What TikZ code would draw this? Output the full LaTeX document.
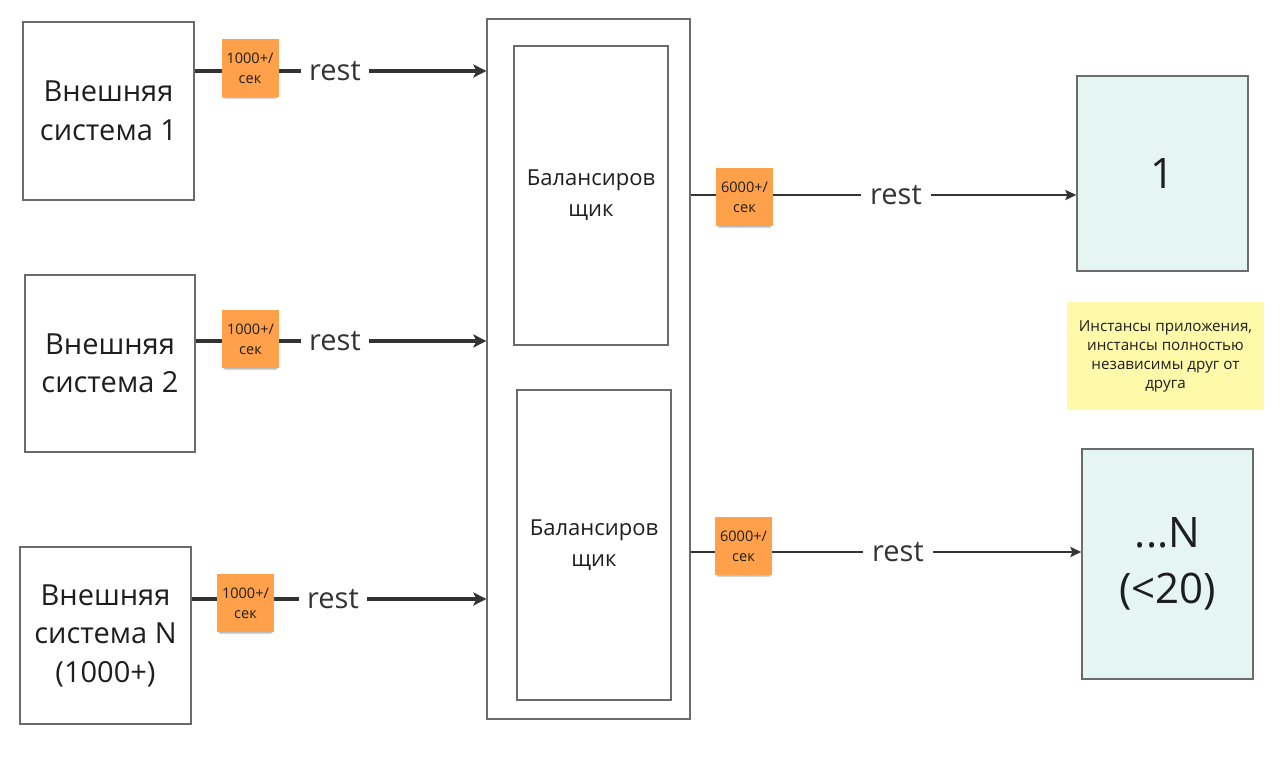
\documentclass[tikz,border=0pt]{standalone}
\usepackage{fontspec}
\setmainfont{Open Sans}
\usetikzlibrary{arrows.meta,shadows,backgrounds}
\definecolor{boxline}{HTML}{6B6B6B}
\definecolor{arrowc}{HTML}{333333}
\definecolor{orangenote}{HTML}{FFA04A}
\definecolor{yellownote}{HTML}{FFF9AA}
\definecolor{tealfill}{HTML}{E4F5F2}
\definecolor{txt}{HTML}{1E1E1E}
\tikzset{
  softshadow/.style={
    drop shadow={shadow xshift=0pt, shadow yshift=-2pt, shadow scale=0.97, opacity=0.10, fill=black},
    drop shadow={shadow xshift=0pt, shadow yshift=-4pt, shadow scale=0.93, opacity=0.10, fill=black},
    drop shadow={shadow xshift=0pt, shadow yshift=-6pt, shadow scale=0.89, opacity=0.08, fill=black}},
  sysbox/.style={draw=boxline, line width=1.3pt, fill=white, inner sep=0pt, align=center, text=txt,
    font=\fontsize{29}{38.5}\selectfont},
  balbox/.style={draw=boxline, line width=1.1pt, inner sep=0pt, align=center, text=txt,
    font=\fontsize{22}{31}\selectfont},
  instbox/.style={draw=boxline, line width=1.3pt, fill=tealfill, inner sep=0pt, align=center, text=txt,
    font=\fontsize{42}{56}\selectfont},
  sticky/.style={fill=orangenote, inner sep=0pt, minimum width=57pt, minimum height=58pt, align=center,
    text=txt, font=\fontsize{14.5}{20}\selectfont, softshadow},
  yelnote/.style={fill=yellownote, inner sep=0pt, minimum width=197pt, minimum height=108pt, align=center,
    text=txt, font=\fontsize{15.2}{19}\selectfont, softshadow},
  restlab/.style={fill=white, inner xsep=8pt, inner ysep=2pt, text=arrowc, font=\fontsize{29}{32}\selectfont},
  restlabr/.style={fill=white, inner xsep=9pt, inner ysep=2pt, text=arrowc, font=\fontsize{29}{32}\selectfont},
  thickarr/.style={draw=arrowc, line width=3.2pt, -{Stealth[length=13pt, width=13pt, inset=3pt]}},
  thinarr/.style={draw=arrowc, line width=2pt, -{Stealth[length=11pt, width=10pt, inset=2pt]}},
}
\begin{document}
\begin{tikzpicture}[x=1pt, y=-1pt]
\useasboundingbox (0,0) rectangle (1280,767);

% central balancer container
\node[draw=boxline, line width=1.3pt, inner sep=0pt, minimum width=203pt, minimum height=700pt] (outer) at (588.5,369) {};
\node[balbox, minimum width=154pt, minimum height=299pt] (bal1) at (591,195.5) {Балансиров\\щик};
\node[balbox, minimum width=154pt, minimum height=310pt] (bal2) at (594,545) {Балансиров\\щик};

% external systems
\node[sysbox, minimum width=171pt, minimum height=178pt] (ext1) at (108.5,111) {Внешняя\\система 1};
\node[sysbox, minimum width=170pt, minimum height=177pt] (ext2) at (110,363.5) {Внешняя\\система 2};
\node[sysbox, minimum width=171pt, minimum height=177pt] (extN) at (105.5,635.5) {Внешняя\\система N\\(1000+)};

% instances
\node[instbox, minimum width=171pt, minimum height=195pt] (inst1) at (1162.5,173.5) {1};
\node[instbox, minimum width=171pt, minimum height=230pt] (instN) at (1167.5,564) {...N\\(<20)};

% note
\node[yelnote] (note) at (1165.5,356) {Инстансы приложения,\\инстансы полностью\\независимы друг от\\друга};

% rest labels
\node[restlab] (r1) at (335,71) {rest};
\node[restlab] (r2) at (335,341) {rest};
\node[restlab] (r3) at (333,599) {rest};
\node[restlabr] (r4) at (896,195) {rest};
\node[restlabr] (r5) at (898,552) {rest};

% stickies
\node[sticky] (s1) at (250,68) {1000+/\\сек};
\node[sticky] (s2) at (250.5,339) {1000+/\\сек};
\node[sticky] (s3) at (245.5,603) {1000+/\\сек};
\node[sticky] (s4) at (744.5,197) {6000+/\\сек};
\node[sticky] (s5) at (743.5,546) {6000+/\\сек};

\begin{pgfonlayer}{background}
\draw[thickarr] (ext1.east |- r1) -- (outer.west |- r1);
\draw[thickarr] (ext2.east |- r2) -- (outer.west |- r2);
\draw[thickarr] (extN.east |- r3) -- (outer.west |- r3);
\draw[thinarr] (outer.east |- r4) -- (inst1.west |- r4);
\draw[thinarr] (outer.east |- r5) -- (instN.west |- r5);
\end{pgfonlayer}
\end{tikzpicture}
\end{document}
